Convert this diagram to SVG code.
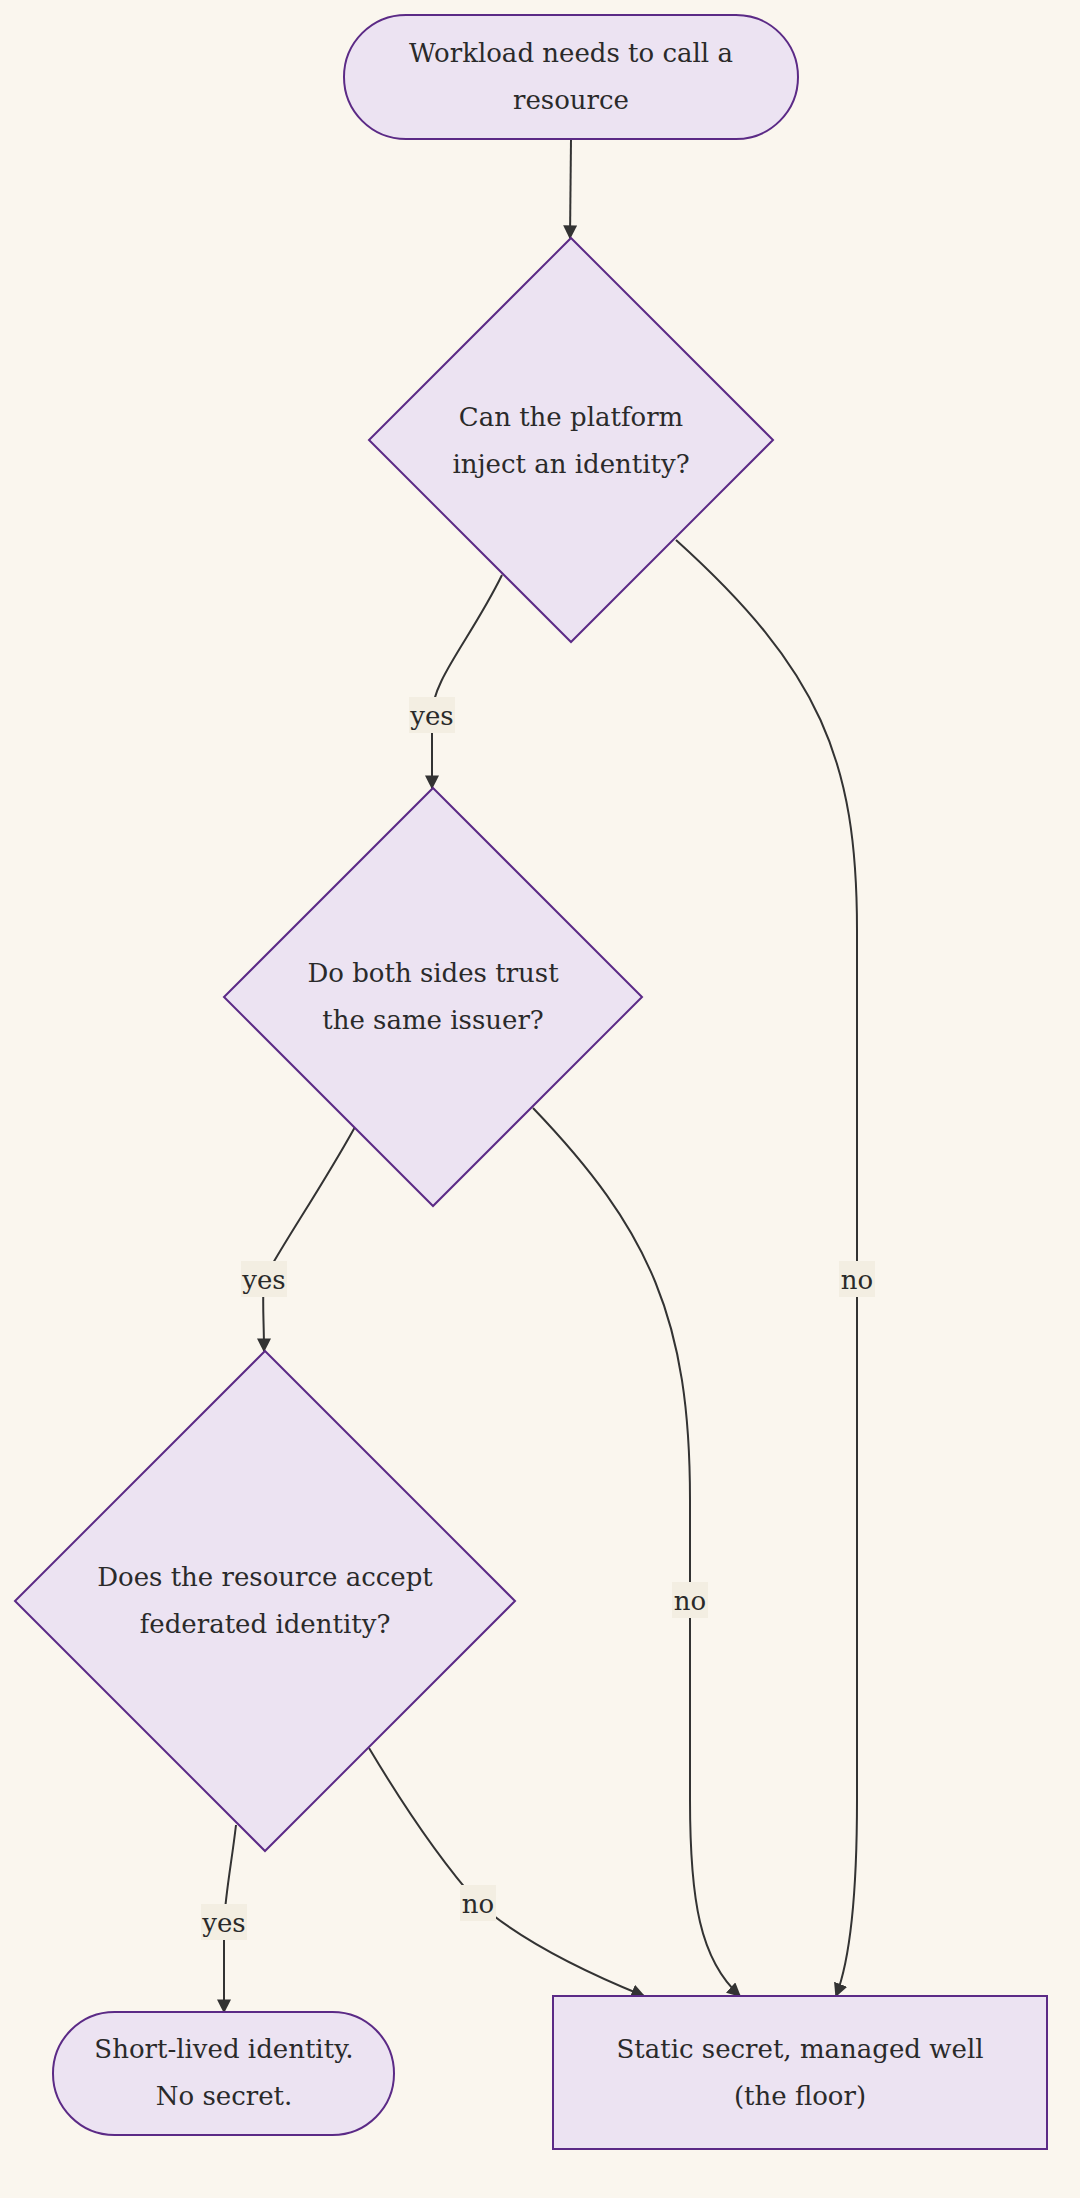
<svg xmlns="http://www.w3.org/2000/svg" width="1080" height="2198" viewBox="0 0 1080 2198">
<defs>
<marker id="arr" viewBox="0 0 10 10" refX="9" refY="5" markerWidth="8" markerHeight="8" orient="auto-start-reverse" markerUnits="userSpaceOnUse"><path d="M0,0 L10,5 L0,10 z" fill="#333"/></marker>
<marker id="ah" viewBox="0 0 10 10" refX="9" refY="5" markerWidth="14" markerHeight="14" orient="auto" markerUnits="userSpaceOnUse"><path d="M0,0 L10,5 L0,10 z" fill="#333"/></marker>
</defs>
<style>
.n{fill:#ece3f2;stroke:#5b2a86;stroke-width:2}
.t{font-family:"DejaVu Serif","Liberation Serif",serif;font-size:26px;fill:#2a2a2a;text-anchor:middle}
.e{fill:none;stroke:#333;stroke-width:2;marker-end:url(#ah)}
.lb{fill:#f3eee2}
</style>
<rect width="1080" height="2198" fill="#faf6ee"/>
<g id="connectors">
<path class="e" d="M571,139 L570,238"/>
<path class="e" d="M502,575 C470,640 432,680 432,715 L432,788"/>
<path class="e" d="M676,540 C820,670 857,760 857,930 L857,1800 C857,1900 850,1960 836,1996"/>
<path class="e" d="M355,1127 C320,1190 285,1240 264,1279 C262,1300 264,1320 264,1351"/>
<path class="e" d="M533,1108 C650,1230 690,1320 690,1500 L690,1800 C690,1900 700,1960 740,1996"/>
<path class="e" d="M369,1748 C400,1800 440,1860 478,1903 C520,1940 580,1970 644,1996"/>
<path class="e" d="M236,1825 C232,1860 226,1890 224,1922 L224,2012"/>
<rect class="lb" x="409" y="697" width="46" height="36"/>
<text class="t" x="432" y="725">yes</text>
<rect class="lb" x="839" y="1261" width="36" height="36"/>
<text class="t" x="857" y="1289">no</text>
<rect class="lb" x="241" y="1261" width="46" height="36"/>
<text class="t" x="264" y="1289">yes</text>
<rect class="lb" x="672" y="1582" width="36" height="36"/>
<text class="t" x="690" y="1610">no</text>
<rect class="lb" x="460" y="1885" width="36" height="36"/>
<text class="t" x="478" y="1913">no</text>
<rect class="lb" x="201" y="1904" width="46" height="36"/>
<text class="t" x="224" y="1932">yes</text>
</g>
<g id="start">
<rect class="n" x="344" y="15" width="454" height="124" rx="62"/>
<text class="t" x="571" y="62">Workload needs to call a</text>
<text class="t" x="571" y="109">resource</text>
</g>
<g id="d1">
<polygon class="n" points="571,238 773,440 571,642 369,440"/>
<text class="t" x="571" y="426">Can the platform</text>
<text class="t" x="571" y="473">inject an identity?</text>
</g>
<g id="d2">
<polygon class="n" points="433,788 642,997 433,1206 224,997"/>
<text class="t" x="433" y="982">Do both sides trust</text>
<text class="t" x="433" y="1029">the same issuer?</text>
</g>
<g id="d3">
<polygon class="n" points="265,1351 515,1601 265,1851 15,1601"/>
<text class="t" x="265" y="1586">Does the resource accept</text>
<text class="t" x="265" y="1633">federated identity?</text>
</g>
<g id="short">
<rect class="n" x="53" y="2012" width="341" height="123" rx="61.5"/>
<text class="t" x="224" y="2058">Short-lived identity.</text>
<text class="t" x="224" y="2105">No secret.</text>
</g>
<g id="static">
<rect class="n" x="553" y="1996" width="494" height="153"/>
<text class="t" x="800" y="2058">Static secret, managed well</text>
<text class="t" x="800" y="2105">(the floor)</text>
</g>
</svg>
